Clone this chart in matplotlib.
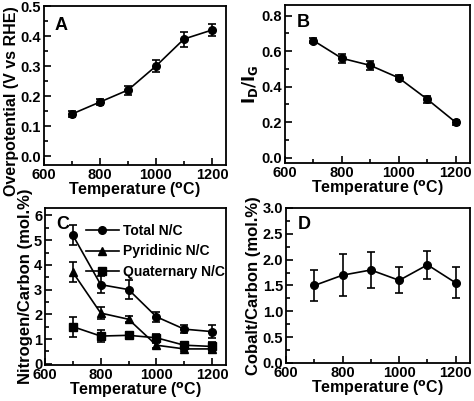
import numpy as np
import matplotlib
matplotlib.use('Agg')
import matplotlib.pyplot as plt
from matplotlib.ticker import MultipleLocator

plt.rcParams['font.family'] = ['Liberation Sans', 'DejaVu Sans']
plt.rcParams['font.weight'] = 'bold'
plt.rcParams['axes.labelweight'] = 'bold'
plt.rcParams['axes.linewidth'] = 1.3

# datos
temps = [700, 800, 900, 1000, 1100, 1200]

overpot = [0.14, 0.18, 0.22, 0.30, 0.39, 0.42]
overpot_err = [0.01, 0.01, 0.015, 0.02, 0.025, 0.02]

idig = [0.66, 0.56, 0.52, 0.45, 0.33, 0.20]
idig_err = [0.015, 0.025, 0.025, 0.015, 0.02, 0.015]

total_nc = [5.2, 3.2, 3.0, 1.9, 1.4, 1.3]
total_err = [0.4, 0.33, 0.4, 0.2, 0.15, 0.25]
pyr_nc = [3.7, 2.05, 1.8, 0.75, 0.6, 0.6]
pyr_err = [0.4, 0.25, 0.12, 0.1, 0.1, 0.15]
quat_nc = [1.5, 1.12, 1.15, 1.05, 0.75, 0.7]
quat_err = [0.4, 0.25, 0.12, 0.15, 0.1, 0.2]

cobalt = [1.5, 1.7, 1.8, 1.6, 1.9, 1.55]
cobalt_err = [0.3, 0.4, 0.35, 0.25, 0.27, 0.3]

fig = plt.figure(figsize=(4.74, 4.01), dpi=100)

def style(ax, letter, ylabel, ylim, ymaj, ymin, lx, ly, ylab_y=0.5, ylab_fs=12):
    ax.set_xlim(600, 1250)
    ax.set_ylim(*ylim)
    ax.xaxis.set_major_locator(MultipleLocator(200))
    ax.xaxis.set_minor_locator(MultipleLocator(100))
    ax.yaxis.set_major_locator(MultipleLocator(ymaj))
    ax.yaxis.set_minor_locator(MultipleLocator(ymin))
    ax.tick_params(which='both', direction='in', top=False, right=False, labelsize=10.5, width=1.2, pad=2)
    ax.tick_params(which='major', length=5)
    ax.tick_params(which='minor', length=3)
    ax.set_xlabel('Temperature ($^{\\mathbf{o}}$C)', fontsize=11.5, labelpad=-1)
    ax.set_ylabel(ylabel, fontsize=ylab_fs, labelpad=1, y=ylab_y)
    ax.text(lx, ly, letter, transform=ax.transAxes, fontsize=13, fontweight='bold', va='top')

kw = dict(color='k', lw=1.2, capsize=3, elinewidth=1.2, capthick=1.2, ms=5.5)

axA = fig.add_axes([0.0928, 0.5885, 0.384, 0.3965])
axA.errorbar(temps, overpot, yerr=overpot_err, marker='o', **kw)
style(axA, 'A', 'Overpotential (V vs RHE)', (-0.03, 0.5), 0.1, 0.05, 0.06, 0.93, 0.40, 11.5)
axA.yaxis.set_major_formatter(plt.FormatStrFormatter('%.1f'))

axB = fig.add_axes([0.601, 0.5935, 0.390, 0.394])
axB.errorbar(temps, idig, yerr=idig_err, marker='o', **kw)
style(axB, 'B', '$\\mathbf{I_D/I_G}$', (-0.03, 0.86), 0.2, 0.1, 0.065, 0.94)
axB.yaxis.set_major_formatter(plt.FormatStrFormatter('%.1f'))

axC = fig.add_axes([0.0949, 0.0898, 0.382, 0.3915])
axC.errorbar(temps, total_nc, yerr=total_err, marker='o', label='Total N/C', **kw)
axC.errorbar(temps, pyr_nc, yerr=pyr_err, marker='^', label='Pyridinic N/C', **kw)
axC.errorbar(temps, quat_nc, yerr=quat_err, marker='s', label='Quaternary N/C', **kw)
style(axC, 'C', 'Nitrogen/Carbon (mol.%)', (-0.05, 6.3), 1, 0.5, 0.06, 0.95)
handles, labels = axC.get_legend_handles_labels()
handles = [h[0] for h in handles]
axC.legend(handles, labels, loc='upper right', frameon=False, fontsize=10,
           handlelength=2.4, handletextpad=0.3, borderaxespad=0.2, labelspacing=0.45,
           bbox_to_anchor=(1.04, 0.95))

axD = fig.add_axes([0.6034, 0.0948, 0.388, 0.3865])
axD.errorbar(temps, cobalt, yerr=cobalt_err, marker='o', **kw)
style(axD, 'D', 'Cobalt/Carbon (mol.%)', (0, 3.0), 0.5, 0.25, 0.065, 0.95)
axD.yaxis.set_major_formatter(plt.FormatStrFormatter('%.1f'))

fig.savefig('out.png', dpi=100)
